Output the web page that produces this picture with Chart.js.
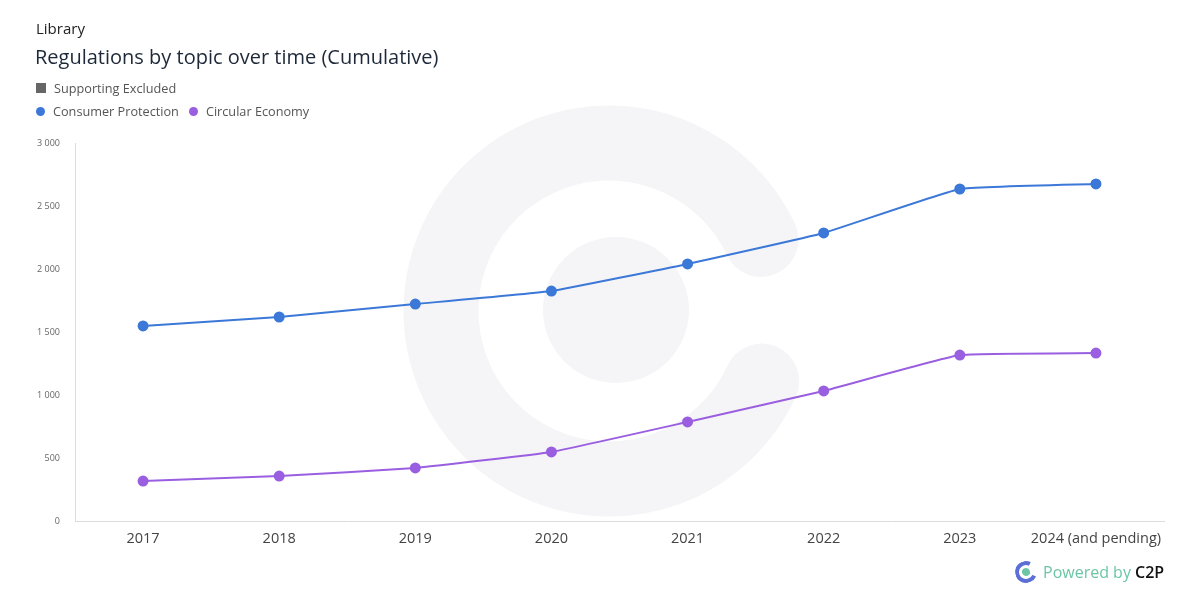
<!DOCTYPE html>
<html>
<head>
<meta charset="utf-8">
<script src="https://cdn.jsdelivr.net/npm/chart.js@4"></script>
<style>
  html,body{margin:0;padding:0;background:#fff;font-family:"Open Sans",sans-serif;}
  #wrap{position:relative;width:1200px;height:600px;overflow:hidden;}
  #chart{position:absolute;left:0;top:0;}
  .lib{position:absolute;left:36px;top:18px;font-size:15px;color:#222;}
  .ttl{position:absolute;left:35px;top:43px;font-size:20px;color:#1d2838;}
  .leg{position:absolute;left:36px;font-size:12.7px;color:#555;display:flex;align-items:center;}
  .leg i{display:inline-block;margin-right:8px;}
  .sq{width:10px;height:10px;background:#666;}
  .dot{width:9px;height:9px;border-radius:50%;}
  .pw{position:absolute;left:1015px;top:561px;display:flex;align-items:center;font-size:16px;}
  .pw .lg{width:14px;height:14px;border:4px solid #5b6fd6;border-right-color:transparent;border-radius:50%;position:relative;margin-right:6px;transform:rotate(-20deg);}
  .pw .lg:after{content:'';position:absolute;left:3px;top:3px;width:8px;height:8px;border-radius:50%;background:#6cc6a6;}
</style>
</head>
<body>
<div id="wrap">
  <canvas id="chart" width="1200" height="600"></canvas>
  <div class="lib">Library</div>
  <div class="ttl">Regulations by topic over time (Cumulative)</div>
  <div class="leg" style="top:79px"><i class="sq"></i>Supporting Excluded</div>
  <div class="leg" style="top:102px"><i class="dot" style="background:#3b78d8"></i>Consumer Protection<i class="dot" style="background:#9a5fe0;margin-left:10px"></i>Circular Economy</div>
  <div class="pw"><span class="lg"></span><span style="color:#6cc6a6">Powered by&nbsp;</span><span style="color:#111;font-weight:600">C2P</span></div>
</div>
<script>
const years = ['2017','2018','2019','2020','2021','2022','2023','2024 (and pending)'];
const consumerProtection = [1548, 1619, 1722, 1825, 2040, 2286, 2635, 2675];
const circularEconomy = [317, 357, 421, 548, 786, 1032, 1317, 1333];
const yTicks = [0, 500, 1000, 1500, 2000, 2500, 3000];

const fmtNum = v => String(v).replace(/\B(?=(\d{3})+(?!\d))/g, ' ');

// watermark "C" behind the lines
const watermark = {
  id:'watermark',
  beforeDatasetsDraw(chart){
    const c = chart.ctx;
    c.save();
    c.strokeStyle = '#f5f5f7';
    c.fillStyle = '#f5f5f7';
    c.lineWidth = 75;
    c.lineCap = 'round';
    c.beginPath();
    c.arc(609, 311, 168, 0.43, Math.PI*2 - 0.44);
    c.stroke();
    c.beginPath();
    c.arc(616, 310, 73, 0, Math.PI*2);
    c.fill();
    c.restore();
  }
};

new Chart(document.getElementById('chart'), {
  type:'line',
  data:{labels:years, datasets:[
    {label:'Consumer Protection', data:consumerProtection, borderColor:'#3b78d8', backgroundColor:'#3b78d8', borderWidth:2, pointRadius:4.5, pointHoverRadius:4.5, tension:0.1},
    {label:'Circular Economy', data:circularEconomy, borderColor:'#9a5fe0', backgroundColor:'#9a5fe0', borderWidth:2, pointRadius:4.5, pointHoverRadius:4.5, tension:0.1}
  ]},
  options:{
    responsive:false, animation:false,
    layout:{padding:{left:0, right:36, top:143, bottom:0}},
    plugins:{legend:{display:false}, tooltip:{enabled:false}},
    scales:{
      x:{
        offset:true,
        grid:{display:false, drawTicks:false},
        border:{display:true, color:'#dcdcdc'},
        ticks:{color:'#444', font:{family:'Open Sans', size:14.5}, padding:9, maxRotation:0},
        afterFit(s){ s.height = 79; }
      },
      y:{
        min:0, max:3000,
        grid:{display:false, drawTicks:false},
        border:{display:true, color:'#dcdcdc'},
        afterBuildTicks(s){ s.ticks = yTicks.map(v=>({value:v})); },
        ticks:{color:'#666', font:{family:'Open Sans', size:9}, padding:15, callback:v=>fmtNum(v)},
        afterFit(s){ s.width = 75; }
      }
    }
  },
  plugins:[watermark]
});
</script>
</body>
</html>
